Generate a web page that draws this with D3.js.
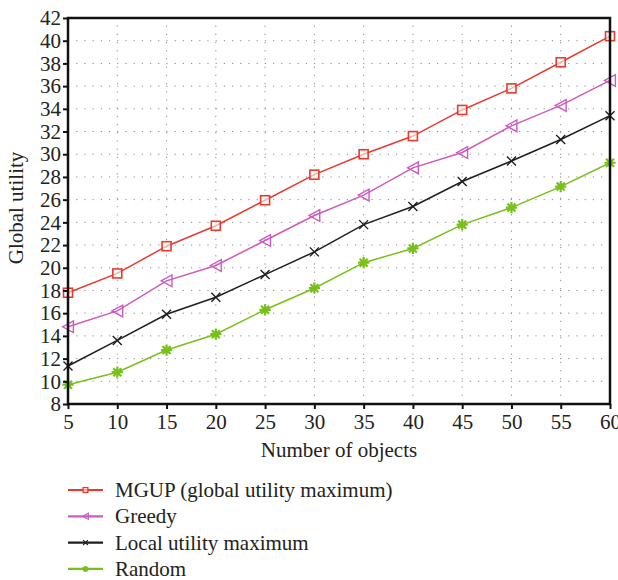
<!DOCTYPE html>
<html>
<head>
<meta charset="utf-8">
<script src="https://cdn.jsdelivr.net/npm/d3@7.9.0/dist/d3.min.js"></script>
<style>
  body { margin: 0; background: #fff; }
</style>
</head>
<body>
<svg id="chart" width="618" height="580"></svg>
<script>
const objects = [5, 10, 15, 20, 25, 30, 35, 40, 45, 50, 55, 60];
const mgup = [17.8, 19.5, 21.9, 23.7, 25.95, 28.2, 30.0, 31.6, 33.9, 35.8, 38.1, 40.4];
const greedy = [14.8, 16.2, 18.85, 20.2, 22.4, 24.6, 26.4, 28.8, 30.15, 32.5, 34.3, 36.5];
const localMax = [11.35, 13.6, 15.9, 17.4, 19.4, 21.4, 23.8, 25.4, 27.6, 29.4, 31.3, 33.4];
const random = [9.7, 10.8, 12.75, 14.15, 16.3, 18.2, 20.45, 21.7, 23.8, 25.3, 27.15, 29.25];
const yTicks = d3.range(8, 43, 2);

const series = [
  { name: 'MGUP (global utility maximum)', values: mgup, color: '#e63b2e', marker: 'square' },
  { name: 'Greedy', values: greedy, color: '#cc5bbf', marker: 'triangle' },
  { name: 'Local utility maximum', values: localMax, color: '#1e1e1e', marker: 'cross' },
  { name: 'Random', values: random, color: '#78c01a', marker: 'star' },
];

const FONT = 'Liberation Serif';
const FS = 21;

const svg = d3.select('#chart');
const margin = { left: 68, right: 610, top: 18, bottom: 404 };

const x = d3.scaleLinear().domain([5, 60]).range([margin.left, margin.right]);
const y = d3.scaleLinear().domain([8, 42]).range([margin.bottom, margin.top]);

// dotted grid
const grid = svg.append('g').attr('stroke', '#8a8a8a').attr('stroke-width', 1).attr('stroke-dasharray', '1.2,7');
grid.selectAll('line.h').data(yTicks.slice(1, -1)).join('line')
  .attr('x1', margin.left).attr('x2', margin.right)
  .attr('y1', (d) => y(d)).attr('y2', (d) => y(d));
grid.selectAll('line.v').data(objects.slice(1, -1)).join('line')
  .attr('y1', margin.bottom).attr('y2', margin.top)
  .attr('x1', (d) => x(d)).attr('x2', (d) => x(d));

function drawMarker(g, type, color, s, w = 1.4) {
  if (type === 'square') {
    g.append('rect').attr('x', -s).attr('y', -s).attr('width', 2 * s).attr('height', 2 * s)
      .attr('fill', '#fff').attr('fill-opacity', 0.6).attr('stroke', color).attr('stroke-width', w + 0.2);
  } else if (type === 'triangle') {
    g.append('path').attr('d', `M${-s * 1.2},0L${s * 1.2},${-s * 1.3}L${s * 1.2},${s * 1.3}Z`)
      .attr('fill', 'none').attr('stroke', color).attr('stroke-width', w);
  } else if (type === 'cross') {
    g.append('path').attr('d', `M${-s},${-s}L${s},${s}M${-s},${s}L${s},${-s}`)
      .attr('stroke', color).attr('stroke-width', w);
  } else {
    const r = s * 1.25;
    const d = r * Math.SQRT1_2;
    g.append('path')
      .attr('d', `M${-r},0L${r},0M0,${-r}L0,${r}M${-d},${-d}L${d},${d}M${-d},${d}L${d},${-d}`)
      .attr('stroke', color).attr('stroke-width', w * 1.6);
  }
}

const line = d3.line().x((d, i) => x(objects[i])).y((d) => y(d));

series.forEach((s) => {
  svg.append('path').datum(s.values).attr('d', line)
    .attr('fill', 'none').attr('stroke', s.color).attr('stroke-width', 1.5);
  s.values.forEach((v, i) => {
    const g = svg.append('g').attr('transform', `translate(${x(objects[i])},${y(v)})`);
    drawMarker(g, s.marker, s.color, 4.5);
  });
});

// frame
svg.append('rect').attr('x', margin.left).attr('y', margin.top)
  .attr('width', margin.right - margin.left).attr('height', margin.bottom - margin.top)
  .attr('fill', 'none').attr('stroke', '#111').attr('stroke-width', 2.5);

// axes
const xAxis = svg.append('g').attr('transform', `translate(0,${margin.bottom})`)
  .call(d3.axisBottom(x).tickValues(objects).tickSize(5).tickPadding(5));
const yAxis = svg.append('g').attr('transform', `translate(${margin.left},0)`)
  .call(d3.axisLeft(y).tickValues(yTicks).tickSize(5).tickPadding(2));
[xAxis, yAxis].forEach((a) => {
  a.attr('font-family', FONT).attr('font-size', FS);
  a.select('.domain').remove();
  a.selectAll('line').attr('stroke', '#111').attr('stroke-width', 2);
  a.selectAll('text').attr('fill', '#222');
});

svg.append('text').attr('x', 339).attr('y', 457).attr('text-anchor', 'middle')
  .attr('font-family', FONT).attr('font-size', FS).attr('fill', '#222').text('Number of objects');
svg.append('text').attr('transform', 'translate(23,208) rotate(-90)').attr('text-anchor', 'middle')
  .attr('font-family', FONT).attr('font-size', FS).attr('fill', '#222').text('Global utility');

// legend
series.forEach((s, i) => {
  const ly = 490 + i * 26.3;
  svg.append('line').attr('x1', 68).attr('x2', 103).attr('y1', ly).attr('y2', ly)
    .attr('stroke', s.color).attr('stroke-width', 2.2);
  const g = svg.append('g').attr('transform', `translate(85.5,${ly})`);
  drawMarker(g, s.marker, s.color, 2.4, 1.1);
  svg.append('text').attr('x', 115).attr('y', ly + 7)
    .attr('font-family', FONT).attr('font-size', FS).attr('fill', '#222').text(s.name);
});
</script>
</body>
</html>
